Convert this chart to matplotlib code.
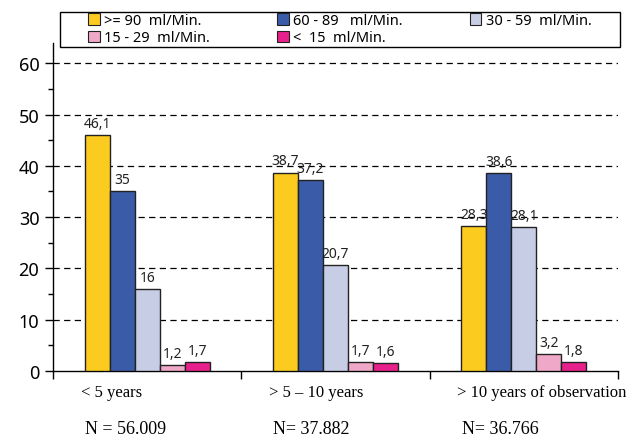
import matplotlib
matplotlib.use('Agg')
import matplotlib.pyplot as plt
import numpy as np
from matplotlib.patches import Patch, Rectangle
from matplotlib.ticker import MultipleLocator

groups = ['< 5 years', '> 5 – 10 years', '> 10 years of observation']
n_labels = ['N = 56.009', 'N= 37.882', 'N= 36.766']
series = ['>= 90  ml/Min.', '60 - 89   ml/Min.', '30 - 59  ml/Min.',
          '15 - 29  ml/Min.', '<  15  ml/Min.']
values = [
    [46.1, 38.7, 28.3],
    [35.0, 37.2, 38.6],
    [16.0, 20.7, 28.1],
    [1.2, 1.7, 3.2],
    [1.7, 1.6, 1.8],
]
value_labels = [
    ['46,1', '38,7', '28,3'],
    ['35', '37,2', '38,6'],
    ['16', '20,7', '28,1'],
    ['1,2', '1,7', '3,2'],
    ['1,7', '1,6', '1,8'],
]
colors = ['#FCCB1F', '#3A5BA8', '#C8CDE6', '#F0A8C8', '#E8208C']

plt.rcParams['font.family'] = ['Noto Sans', 'DejaVu Sans']

W, H = 626, 439
fig = plt.figure(figsize=(W / 100, H / 100), dpi=100)
ax = fig.add_axes([0.085, 0.153, 0.902, 0.747])

x = np.arange(len(groups))
bar_w = 0.133
n = len(series)
for j in range(n):
    offset = (j - n / 2 + 0.5) * bar_w
    bars = ax.bar(x + offset, values[j], bar_w, color=colors[j],
                  edgecolor='#222222', linewidth=1.0, zorder=3)
    for b, v, t in zip(bars, values[j], value_labels[j]):
        ax.text(b.get_x() + b.get_width() / 2, v + 0.8, t,
                ha='center', va='bottom', fontsize=10, color='#222222', zorder=4)

ax.set_xlim(-0.5, 2.5)
ax.set_ylim(0, 64)
ax.yaxis.set_major_locator(MultipleLocator(10))
ax.yaxis.set_minor_locator(MultipleLocator(5))
ax.set_yticks(np.arange(0, 61, 10))
ax.tick_params(axis='y', which='major', length=6, width=1, labelsize=13, pad=4)
ax.tick_params(axis='y', which='minor', length=3.5, width=1)

for yv in range(10, 61, 10):
    ax.axhline(yv, color='black', lw=0.9, ls=(0, (5, 3.5)), zorder=1)

ax.set_xticks([-0.5, 0.5, 1.5, 2.5])
ax.set_xticklabels([])
ax.tick_params(axis='x', length=6, width=1)

for s in ['top', 'right']:
    ax.spines[s].set_visible(False)
for s in ['left', 'bottom']:
    ax.spines[s].set_linewidth(1.0)

# category and N labels below the axis, left aligned
for i in range(len(groups)):
    ax.text(i - 0.355, -4.1, groups[i], ha='left', va='center',
            fontsize=12, family='Liberation Serif', clip_on=False)
    ax.text(i - 0.33, -11.3, n_labels[i], ha='left', va='center',
            fontsize=13, family='Liberation Serif', clip_on=False)

# legend frame is wider than its content, so draw it separately
fig.patches.append(Rectangle((60 / W, 1 - 48 / H), 560 / W, 35 / H,
                             transform=fig.transFigure, facecolor='white',
                             edgecolor='black', linewidth=1.0, zorder=5))
handles = [Patch(facecolor=c, edgecolor='#222222', linewidth=0.8) for c in colors]
order = [0, 3, 1, 4, 2]
leg = fig.legend([handles[k] for k in order], [series[k] for k in order],
                 ncol=3, loc='upper left', bbox_to_anchor=(88 / W, 1 - 14 / H),
                 fontsize=10.5, frameon=False,
                 handlelength=0.8, handleheight=0.8, handletextpad=0.3,
                 columnspacing=4.6, labelspacing=0.15, borderpad=0.0,
                 borderaxespad=0)
leg.set_zorder(6)

fig.savefig('out.png', dpi=100)
